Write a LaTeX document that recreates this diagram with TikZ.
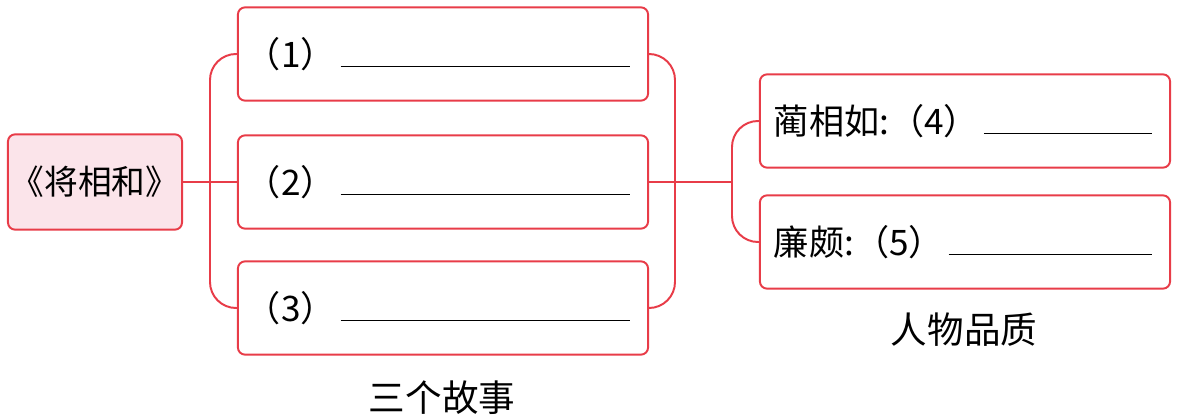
\documentclass[tikz,border=0pt]{standalone}
\usepackage{fontspec}
\setmainfont{Noto Sans CJK SC}
\usetikzlibrary{positioning}
\definecolor{linkred}{RGB}{232,60,72}
\definecolor{titlepink}{RGB}{251,228,234}
\newcommand{\blankline}{\hspace{0.12cm}\leaders\hrule height 0.9pt\hfill\kern0.25cm}

\begin{document}
\begin{tikzpicture}[x=0.025cm, y=-0.025cm,
  answerbox/.style={draw=linkred, line width=1.4pt, rounded corners=5pt, minimum width=10.25cm, minimum height=2.33cm, text width=9.85cm, align=left, inner sep=0pt, font=\fontsize{25}{29}\selectfont},
  titlebox/.style={draw=linkred, fill=titlepink, line width=1.4pt, rounded corners=5pt, minimum width=4.35cm, minimum height=2.38cm, inner sep=0pt, font=\fontsize{24}{28}\selectfont},
  caption/.style={font=\fontsize{26}{30}\selectfont, inner sep=0pt},
  link/.style={draw=linkred, line width=1.4pt, rounded corners=0.65cm}]
  \useasboundingbox (0,0) rectangle (1179,419);
  \node[titlebox] (title) at (95,182) {《将相和》};
  \node[answerbox] (story1) at (443,54) {（1）\blankline};
  \node[answerbox] (story2) at (443,182) {（2）\blankline};
  \node[answerbox] (story3) at (443,308) {（3）\blankline};
  \node[answerbox] (trait1) at (965,121) {\hspace*{0.15cm}蔺相如:（4）\blankline};
  \node[answerbox] (trait2) at (965,242) {\hspace*{0.15cm}廉颇:（5）\blankline};
  \node[caption] (storylabel) at (442,398) {三个故事};
  \node[caption] (traitlabel) at (964,330) {人物品质};
  \coordinate (leftfork) at (210,182);
  \coordinate (rightfork) at (675,182);
  \coordinate (traitfork) at (732,182);
  \draw[link] (title.east) -- (story2.west);
  \draw[link] (story1.west) -| (leftfork) |- (story3.west);
  \draw[link] (story2.east) -- (traitfork);
  \draw[link] (story1.east) -| (rightfork) |- (story3.east);
  \draw[link] (trait1.west) -| (traitfork) |- (trait2.west);
\end{tikzpicture}
\end{document}
